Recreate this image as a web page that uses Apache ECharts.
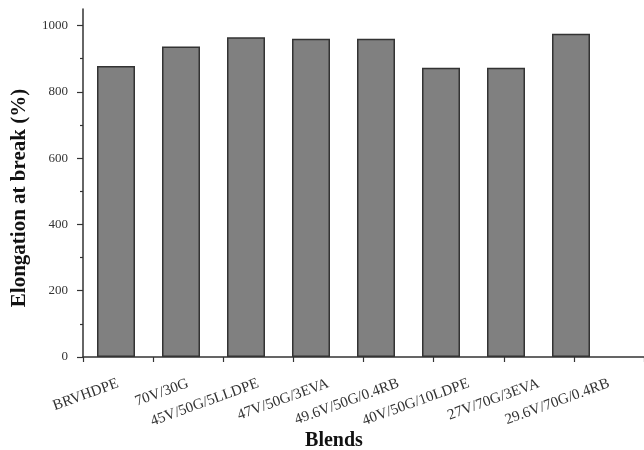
<!DOCTYPE html>
<html>
<head>
<meta charset="utf-8">
<script src="https://cdn.jsdelivr.net/npm/echarts@6/dist/echarts.min.js"></script>
<style>
  html, body { margin: 0; padding: 0; background: #fff; }
  #chart { width: 644px; height: 450px; }
</style>
</head>
<body>
<div id="chart"></div>
<script>
// Blend compositions and their elongation at break (%)
const blends = ['BRVHDPE', '70V/30G', '45V/50G/5LLDPE', '47V/50G/3EVA',
  '49.6V/50G/0.4RB', '40V/50G/10LDPE', '27V/70G/3EVA', '29.6V/70G/0.4RB'];
const elongation = [878, 937, 965, 960, 960, 873, 873, 975];
const majorTicks = [0, 200, 400, 600, 800, 1000];
const minorTicks = [100, 300, 500, 700, 900];

const serif = '"Liberation Serif", "Times New Roman", serif';
const axisColor = '#333';

const chart = echarts.init(document.getElementById('chart'));
chart.setOption({
  backgroundColor: '#fff',
  animation: false,
  grid: [
    // frame grid: axes, ticks and labels
    { left: 83, width: 563, top: 9, bottom: 93 },
    // bar grid
    { left: 83.5, width: 520, top: 9, bottom: 93 }
  ],
  xAxis: [
    {
      gridIndex: 0,
      type: 'category',
      data: blends,
      boundaryGap: true,
      axisLine: { lineStyle: { color: axisColor, width: 1.5 } },
      axisTick: { show: true, length: 5, lineStyle: { color: axisColor, width: 1.2 } },
      axisLabel: {
        interval: 0,
        rotate: 20,
        margin: 26,
        fontFamily: serif,
        fontSize: 15,
        color: '#333'
      },
      splitLine: { show: false }
    },
    {
      gridIndex: 1,
      type: 'category',
      data: blends,
      show: false
    }
  ],
  yAxis: [
    {
      gridIndex: 0,
      type: 'value',
      min: 0,
      max: 1050,
      interval: 200,
      axisLine: { show: true, lineStyle: { color: axisColor, width: 1.5 } },
      axisTick: { show: true, length: 6, customValues: majorTicks, lineStyle: { color: axisColor, width: 1.2 } },
      axisLabel: {
        customValues: majorTicks,
        formatter: (v) => String(v),
        margin: 15,
        fontFamily: serif,
        fontSize: 13,
        color: '#333'
      },
      splitLine: { show: false }
    },
    {
      // minor ticks on the left axis
      gridIndex: 0,
      type: 'value',
      position: 'left',
      min: 0,
      max: 1050,
      interval: 100,
      axisLine: { show: false },
      axisTick: { show: true, length: 3, customValues: minorTicks, lineStyle: { color: axisColor, width: 1.2 } },
      axisLabel: { show: false },
      splitLine: { show: false }
    },
    {
      gridIndex: 1,
      type: 'value',
      min: 0,
      max: 1050,
      show: false
    }
  ],
  series: [
    {
      type: 'bar',
      xAxisIndex: 1,
      yAxisIndex: 2,
      data: elongation,
      barWidth: 38,
      itemStyle: { color: '#808080', borderColor: '#333', borderWidth: 1.5 }
    }
  ],
  graphic: [
    {
      type: 'text',
      x: 20,
      y: 198,
      rotation: Math.PI / 2,
      style: {
        text: 'Elongation at break (%)',
        font: 'bold 21px ' + serif,
        fill: '#111',
        align: 'center',
        verticalAlign: 'middle'
      }
    },
    {
      type: 'text',
      x: 334,
      y: 441,
      style: {
        text: 'Blends',
        font: 'bold 20px ' + serif,
        fill: '#111',
        align: 'center',
        verticalAlign: 'middle'
      }
    }
  ]
});
</script>
</body>
</html>
